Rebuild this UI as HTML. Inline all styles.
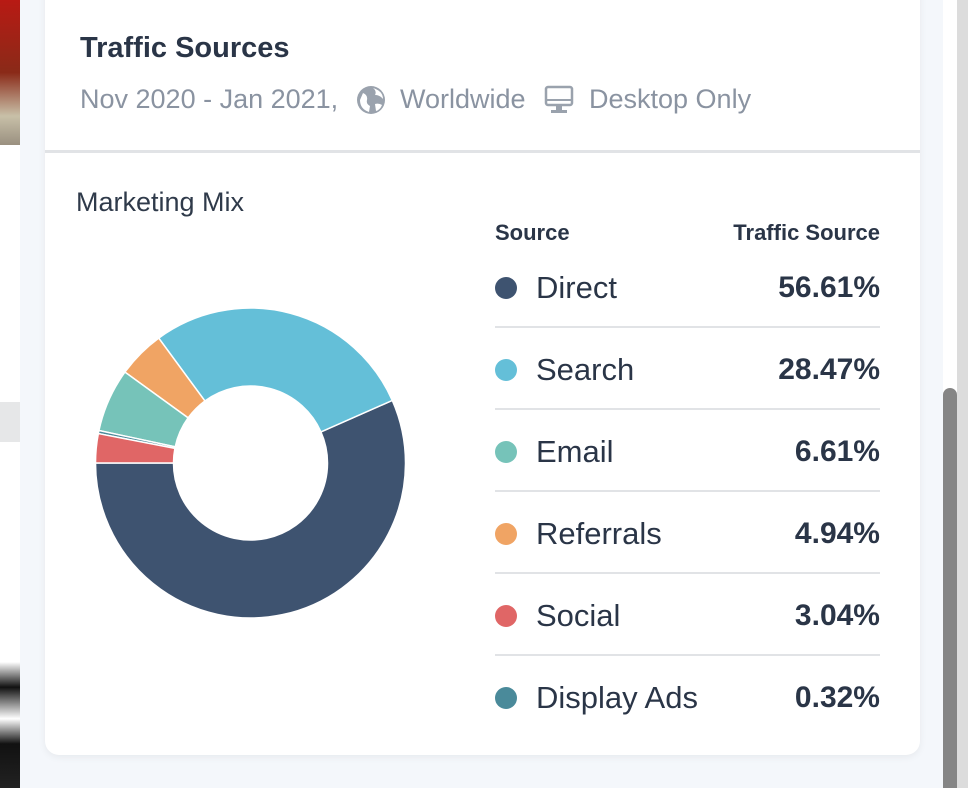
<!DOCTYPE html>
<html style="overflow:hidden"><head><meta charset="utf-8"><style>
*{margin:0;padding:0;box-sizing:border-box}
html,body{width:968px;height:788px;overflow:hidden}
body{background:#f4f7fb;position:relative;font-family:"Liberation Sans",Arial,sans-serif}
.abs{position:absolute}
.card{left:45px;top:-20px;width:875px;height:775px;background:#fff;border-radius:14px;box-shadow:0 2px 8px rgba(0,0,0,0.06)}
.t{position:absolute;white-space:nowrap}
.row{position:absolute;left:495px;width:385px;height:82px}
.dot{position:absolute;left:0;top:-11px;width:22px;height:22px;border-radius:50%}
.lab{position:absolute;left:41px;top:-18px;font-size:31px;color:#2a3547}
.val{position:absolute;right:0;top:-17px;font-size:30px;font-weight:bold;color:#2a3547}
.sep{position:absolute;left:495px;width:385px;height:2px;background:#e1e3e6}
</style></head><body>
<div class="abs" style="left:0;top:0;width:20px;height:788px;background:#fff"></div>
<div class="abs" style="left:0;top:0;width:20px;height:145px;background:linear-gradient(180deg,#b81a14,#8a2a18 50%,#c8c0a8 80%,#9a9080)"></div>
<div class="abs" style="left:0;top:402px;width:20px;height:40px;background:#e6e7e8"></div>
<div class="abs" style="left:0;top:662px;width:20px;height:126px;background:linear-gradient(180deg,#fff,#111 20%,#fff 45%,#111 65%,#222)"></div>
<div class="abs" style="left:943px;top:0;width:14px;height:788px;background:#fff"></div>
<div class="abs" style="left:957px;top:0;width:11px;height:788px;background:#dcdcdc"></div>
<div class="abs" style="left:943px;top:388px;width:14px;height:400px;background:#858585;border-radius:7px 7px 0 0"></div>
<div class="abs card"></div>
<div class="abs" style="left:45px;top:150px;width:875px;height:3px;background:#e1e3e6"></div>
<div class="t" style="left:80px;top:32px;font-size:29px;font-weight:bold;color:#2a3547">Traffic Sources</div>
<div class="t" style="left:80px;top:84px;font-size:27px;color:#8a93a1">Nov 2020 - Jan 2021,</div>
<svg class="abs" style="left:355px;top:84px" width="32" height="32" viewBox="0 0 32 32"><circle cx="16" cy="16" r="14" fill="#9aa2ad"/><path d="M8 9 q5 2 4 7 q-1 4 3 6 l-1 6 q-9-3-9-12z M18 4 q4 3 2 7 q5 0 8 4 q0-8-10-11z M20 20 q4-1 7 1 q-2 5-6 6z" fill="#fff"/></svg>
<div class="t" style="left:400px;top:84px;font-size:27px;color:#8a93a1">Worldwide</div>
<svg class="abs" style="left:543px;top:84px" width="32" height="32" viewBox="0 0 32 32"><rect x="3" y="3" width="26" height="18" rx="2" fill="none" stroke="#9aa2ad" stroke-width="2.5"/><line x1="3" y1="16" x2="29" y2="16" stroke="#9aa2ad" stroke-width="2"/><rect x="13" y="21" width="6" height="5" fill="#9aa2ad"/><rect x="8" y="26" width="16" height="3" fill="#9aa2ad"/></svg>
<div class="t" style="left:589px;top:84px;font-size:27px;color:#8a93a1">Desktop Only</div>
<div class="t" style="left:76px;top:187px;font-size:27px;color:#2f3a4a">Marketing Mix</div>
<svg class="abs" style="left:0;top:0" width="500" height="788" id="pie"></svg>
<div class="t" style="left:495px;top:220px;font-size:22px;font-weight:bold;color:#2a3547">Source</div>
<div class="t" style="right:88px;top:220px;font-size:22px;font-weight:bold;color:#2a3547">Traffic Source</div>
<div class="row" style="top:288px"><div class="dot" style="background:#3e5370"></div><div class="lab">Direct</div><div class="val">56.61%</div></div>
<div class="sep" style="top:326px"></div>
<div class="row" style="top:370px"><div class="dot" style="background:#64bfd8"></div><div class="lab">Search</div><div class="val">28.47%</div></div>
<div class="sep" style="top:408px"></div>
<div class="row" style="top:452px"><div class="dot" style="background:#76c3b9"></div><div class="lab">Email</div><div class="val">6.61%</div></div>
<div class="sep" style="top:490px"></div>
<div class="row" style="top:534px"><div class="dot" style="background:#f0a464"></div><div class="lab">Referrals</div><div class="val">4.94%</div></div>
<div class="sep" style="top:572px"></div>
<div class="row" style="top:616px"><div class="dot" style="background:#e06666"></div><div class="lab">Social</div><div class="val">3.04%</div></div>
<div class="sep" style="top:654px"></div>
<div class="row" style="top:698px"><div class="dot" style="background:#4a8a9a"></div><div class="lab">Display Ads</div><div class="val">0.32%</div></div>
<script>
var cx=250.5,cy=463,R=155,r=77;
var d=[[56.61,"#3e5370"],[28.47,"#64bfd8"],[4.94,"#f0a464"],[6.61,"#76c3b9"],[0.32,"#4a8a9a"],[3.04,"#e06666"]];
var tot=0;d.forEach(function(x){tot+=x[0]});
var a=180,s="";
function p(rad,ang){var t=ang*Math.PI/180;return (cx+rad*Math.cos(t)).toFixed(2)+" "+(cy-rad*Math.sin(t)).toFixed(2);}
d.forEach(function(x){var sw=x[0]/tot*360,b=a+sw,l=sw>180?1:0;
s+='<path d="M'+p(R,a)+' A'+R+' '+R+' 0 '+l+' 0 '+p(R,b)+' L'+p(r,b)+' A'+r+' '+r+' 0 '+l+' 1 '+p(r,a)+' Z" fill="'+x[1]+'" stroke="#fff" stroke-width="1.5"/>';a=b;});
document.getElementById("pie").innerHTML=s;
</script>
</body></html>
